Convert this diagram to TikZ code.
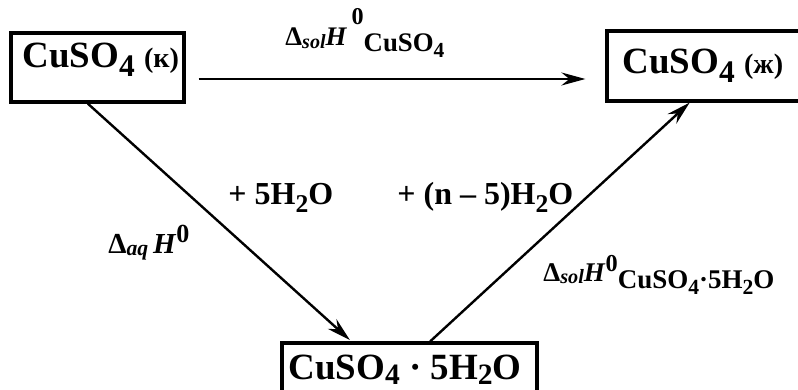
\documentclass[tikz,border=0pt]{standalone}
\usepackage{fontspec}
\setmainfont{Liberation Serif}
\usepackage{graphicx}
\usetikzlibrary{arrows.meta, positioning, calc}
\newcommand{\lo}[2][0.85]{\raisebox{-0.22em}{\scalebox{#1}{#2}}}
\newcommand{\hi}[3][0.9]{\raisebox{#2}{\scalebox{#1}{#3}}}
\newcommand{\idx}[1]{\raisebox{-0.08em}{\scalebox{0.75}{\itshape #1}}}
\newcommand{\fs}[1]{\fontsize{#1}{#1}\selectfont}

\begin{document}
\begin{tikzpicture}[x=0.5pt, y=-0.5pt,
    box/.style={draw, line width=1.6pt, inner sep=0pt},
    formula/.style={font=\bfseries\fs{18.5pt}, inner sep=0pt, anchor=base west},
    lbl/.style={font=\bfseries\fs{16pt}, inner sep=0pt, anchor=base west},
    arr/.style={-{Stealth[length=12pt, width=6.5pt, inset=4pt]}, line width=1.2pt}]
    \useasboundingbox (0,0) rectangle (798,390);

    % Boxes
    \node[box, minimum width=86.5pt, minimum height=34.5pt] (solid) at (97.5,67.5) {};
    \node[box, minimum width=98pt, minimum height=35pt] (liquid) at (705,66) {};
    \node[box, minimum width=127.5pt, minimum height=26.5pt] (hydrate) at (409.5,369.5) {};
    \node[formula] (solidtxt) at (22,68) {CuSO\lo{4} \scalebox{0.76}{(к)}};
    \node[formula] (liquidtxt) at (622,74) {CuSO\lo{4} \scalebox{0.76}{(ж)}};
    \node[formula] (hydratetxt) at (288,379)
        {CuSO\raisebox{-0.15em}{\scalebox{0.8}{4}} · 5H\raisebox{-0.15em}{\scalebox{0.8}{2}}O};

    % Arrows
    \coordinate (hs) at ([shift={(6.5pt,-5.75pt)}]solid.east);
    \path (hs -| liquid.west) coordinate (hw);
    \draw[arr] (hs) -- ([xshift=-10pt]hw);
    \draw[arr, shorten >=1pt] ($(solid.south west)!0.445!(solid.south east)$)
        -- ($(hydrate.north west)!0.275!(hydrate.north east)$);
    \draw[arr] ($(hydrate.north west)!0.58!(hydrate.north east)$)
        -- ($(liquid.south west)!0.423!(liquid.south east)$);

    % Labels
    \node[lbl, font=\bfseries\fs{13.4pt}] (soltop) at (285,46)
        {Δ\idx{sol}\textit{H}\,\hi{0.8em}{0}\raisebox{-0.2em}{CuSO\lo[0.8]{4}}};
    \node[lbl] (water5) at (228,205) {+ 5H\lo[0.8]{2}O};
    \node[lbl, font=\bfseries\fs{16pt}] (watern) at (397,205) {+ (n – 5)H\lo[0.8]{2}O};
    \node[lbl, font=\bfseries\fs{14.5pt}] (aqlbl) at (108,253)
        {Δ\idx{aq}\,\textit{H}\hi{0.37em}{0}};
    \node[lbl, font=\bfseries\fs{13.5pt}] (solhyd) at (543,281)
        {Δ\idx{sol}\textit{H}\hi{0.35em}{0}\raisebox{-0.27em}{CuSO\lo[0.8]{4}·5H\lo[0.8]{2}O}};
\end{tikzpicture}
\end{document}
